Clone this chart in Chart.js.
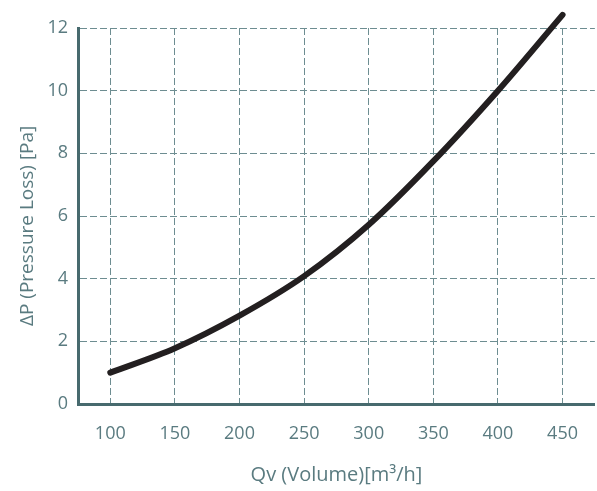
<!DOCTYPE html>
<html>
<head>
<meta charset="utf-8">
<script src="https://cdn.jsdelivr.net/npm/chart.js@4.4.0/dist/chart.umd.min.js"></script>
<style>
  html, body { margin: 0; padding: 0; background: #fff; }
  #wrap { width: 597px; height: 491px; }
</style>
</head>
<body>
<div id="wrap"><canvas id="chart"></canvas></div>
<script>
// values
var volumes = [100, 150, 200, 250, 300, 350, 400, 450];
var pressureLoss = [1.0, 1.78, 2.82, 4.08, 5.72, 7.75, 10.0, 12.42];
var xTicks = [100, 150, 200, 250, 300, 350, 400, 450];
var yTicks = [0, 2, 4, 6, 8, 10, 12];

var axisColor = '#476a6e';
var gridColor = '#6d8d91';
var textColor = '#5a7b80';

var points = [];
for (var i = 0; i < volumes.length; i++) {
  points.push({ x: volumes[i], y: pressureLoss[i] });
}

var ctx = document.getElementById('chart').getContext('2d');
var chart = new Chart(ctx, {
  type: 'line',
  data: {
    datasets: [{
      data: points,
      borderColor: '#231f20',
      borderWidth: 6,
      borderCapStyle: 'round',
      pointRadius: 0,
      cubicInterpolationMode: 'monotone',
      clip: false
    }]
  },
  options: {
    responsive: true,
    maintainAspectRatio: false,
    animation: false,
    layout: { padding: { top: 28, right: 0, bottom: 0, left: 0 } },
    plugins: {
      legend: { display: false },
      tooltip: { enabled: false }
    },
    scales: {
      x: {
        type: 'linear',
        min: 75,
        max: 475,
        afterBuildTicks: function(scale) {
          scale.ticks = xTicks.map(function(v) { return { value: v }; });
        },
        afterFit: function(scale) { scale.height = 87; },
        grid: {
          color: gridColor,
          lineWidth: 1,
          drawTicks: false
        },
        // in v4 border.dash dashes the grid lines, the axis line stays solid
        border: { display: true, color: axisColor, width: 3, dash: [7, 3] },
        ticks: {
          color: textColor,
          padding: 19,
          font: { family: 'Open Sans', size: 18 }
        },
        title: {
          display: true,
          text: 'Qv (Volume)[m³/h]',
          color: textColor,
          padding: { top: 0, bottom: 4 },
          font: { family: 'Open Sans', size: 20 }
        }
      },
      y: {
        type: 'linear',
        min: 0,
        max: 12,
        afterBuildTicks: function(scale) {
          scale.ticks = yTicks.map(function(v) { return { value: v }; });
        },
        afterFit: function(scale) { scale.width = 78; },
        grid: {
          color: gridColor,
          lineWidth: 1,
          drawTicks: false
        },
        border: { display: true, color: axisColor, width: 3, dash: [7, 3] },
        ticks: {
          color: textColor,
          padding: 10,
          font: { family: 'Open Sans', size: 18 }
        },
        title: {
          display: true,
          text: 'ΔP (Pressure Loss) [Pa]\u00a0\u00a0\u00a0\u00a0',
          color: textColor,
          padding: { top: 16, bottom: 0 },
          font: { family: 'Open Sans', size: 19 }
        }
      }
    }
  }
});
</script>
</body>
</html>
